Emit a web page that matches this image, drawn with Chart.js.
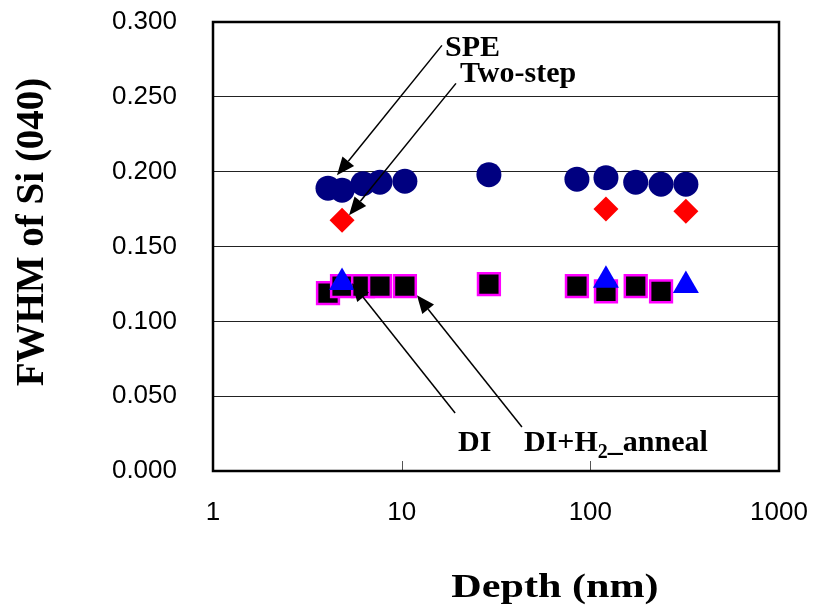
<!DOCTYPE html>
<html>
<head>
<meta charset="utf-8">
<script src="https://cdn.jsdelivr.net/npm/chart.js@4.4.1/dist/chart.umd.min.js"></script>
<style>
  html, body { margin: 0; padding: 0; background: #fff; }
  #wrap { width: 814px; height: 612px; }
</style>
</head>
<body>
<div id="wrap"><canvas id="Chart" width="814" height="612"></canvas></div>
<script>
// axis ticks
const depthTicks = [1, 10, 100, 1000];
const fwhmTicks = [0, 0.05, 0.1, 0.15, 0.2, 0.25, 0.3];

// FWHM of Si (040) vs depth, per process
const speDepth = [4.07, 4.83, 6.24, 7.67, 10.4, 29, 84.9, 121, 174, 237, 321];
const speFwhm = [0.189, 0.1876, 0.192, 0.193, 0.1936, 0.198, 0.195, 0.196, 0.193, 0.1916, 0.1916];

const twoStepDepth = [4.83, 121, 321];
const twoStepFwhm = [0.1676, 0.175, 0.1736];

const diDepth = [4.07, 4.83, 6.24, 7.67, 10.4, 29, 84.9, 121, 174, 237];
const diFwhm = [0.1188, 0.1235, 0.1235, 0.1235, 0.1235, 0.1248, 0.1235, 0.120, 0.1235, 0.120];

const diH2Depth = [4.83, 121, 321];
const diH2Fwhm = [0.126, 0.1275, 0.124];

// callout arrows and labels, in data units (depth, fwhm)
const arrowNotes = [
    { from: [16.35, 0.2844], to: [4.54, 0.1976] },
    { from: [19.4, 0.259], to: [5.26, 0.1709] },
    { from: [19.2, 0.0387], to: [5.45, 0.1255] },
    { from: [43.4, 0.0294], to: [12.05, 0.1175] },
];
const textNotes = [
    { parts: ['SPE'], at: [16.96, 0.277] },
    { parts: ['Two-step'], at: [20.4, 0.2597] },
    { parts: ['DI'], at: [19.9, 0.0134] },
    { parts: ['DI+H', '2', '_anneal'], at: [44.5, 0.0134] },
];

const toPoints = (xs, ys) => xs.map((x, i) => ({ x: x, y: ys[i] }));

const serif = '"Liberation Serif", "Times New Roman", serif';
const sans = '"Liberation Sans", Arial, sans-serif';

const frame = {
    id: 'frame',
    beforeDatasetsDraw(chart) {
        const { ctx, chartArea: a, scales } = chart;
        ctx.save();
        // inner tick marks on the depth axis
        ctx.strokeStyle = '#555';
        ctx.lineWidth = 1;
        depthTicks.slice(1, -1).forEach(v => {
            const px = Math.round(scales.x.getPixelForValue(v)) + 0.5;
            ctx.beginPath();
            ctx.moveTo(px, a.bottom);
            ctx.lineTo(px, a.bottom - 10);
            ctx.stroke();
        });
        // plot box
        ctx.strokeStyle = '#000';
        ctx.lineWidth = 2.5;
        ctx.strokeRect(a.left, a.top, a.right - a.left, a.bottom - a.top);
        ctx.restore();
    },
    afterDraw(chart) {
        const { ctx, scales } = chart;
        const pt = (p) => [scales.x.getPixelForValue(p[0]), scales.y.getPixelForValue(p[1])];
        ctx.save();

        // arrows
        ctx.strokeStyle = '#000';
        ctx.fillStyle = '#000';
        ctx.lineWidth = 1.5;
        arrowNotes.forEach(n => {
            const [x0, y0] = pt(n.from);
            const [x1, y1] = pt(n.to);
            const ang = Math.atan2(y1 - y0, x1 - x0);
            const len = 18, half = 7.5;
            const bx = x1 - Math.cos(ang) * len, by = y1 - Math.sin(ang) * len;
            ctx.beginPath();
            ctx.moveTo(x0, y0);
            ctx.lineTo(bx, by);
            ctx.stroke();
            ctx.beginPath();
            ctx.moveTo(x1, y1);
            ctx.lineTo(bx + Math.sin(ang) * half, by - Math.cos(ang) * half);
            ctx.lineTo(bx - Math.sin(ang) * half, by + Math.cos(ang) * half);
            ctx.closePath();
            ctx.fill();
        });

        // callout labels
        ctx.textBaseline = 'alphabetic';
        ctx.textAlign = 'left';
        textNotes.forEach(n => {
            let [x, y] = pt(n.at);
            n.parts.forEach((s, i) => {
                const sub = n.parts.length > 1 && i === 1;
                ctx.font = 'bold ' + (sub ? 20 : 30) + 'px ' + serif;
                ctx.fillText(s, x, sub ? y + 7 : y);
                x += ctx.measureText(s).width;
            });
        });

        // axis titles
        ctx.font = 'bold 39px ' + serif;
        ctx.textAlign = 'center';
        ctx.textBaseline = 'middle';
        ctx.save();
        ctx.translate(33, 232);
        ctx.rotate(-Math.PI / 2);
        ctx.fillText('FWHM of Si (040)', 0, 0);
        ctx.restore();

        ctx.font = 'bold 34px ' + serif;
        ctx.textBaseline = 'alphabetic';
        ctx.save();
        ctx.translate(555, 597);
        ctx.scale(1.24, 1);
        ctx.fillText('Depth (nm)', 0, 0);
        ctx.restore();

        ctx.restore();
    }
};

const dataType = {
    datasets: [{
        label: 'SPE',
        data: toPoints(speDepth, speFwhm),
        pointStyle: 'circle',
        pointRadius: 12.5,
        backgroundColor: '#000080',
        borderColor: '#000080',
        borderWidth: 0,
        order: 3,
    }, {
        label: 'Two-step',
        data: toPoints(twoStepDepth, twoStepFwhm),
        pointStyle: 'rectRot',
        pointRadius: 12.5,
        backgroundColor: '#ff0000',
        borderColor: '#ff0000',
        borderWidth: 0,
        order: 2,
    }, {
        label: 'DI',
        data: toPoints(diDepth, diFwhm),
        pointStyle: 'rect',
        pointRadius: 15.4,
        backgroundColor: '#000000',
        borderColor: '#ff00ff',
        borderWidth: 2.5,
        order: 1,
    }, {
        label: 'DI+H2_anneal',
        data: toPoints(diH2Depth, diH2Fwhm),
        pointStyle: 'triangle',
        pointRadius: 15,
        backgroundColor: '#0000ff',
        borderColor: '#0000ff',
        borderWidth: 0,
        order: 0,
    }],
};

const config = {
    type: 'scatter',
    data: dataType,
    plugins: [frame],
    options: {
        responsive: false,
        animation: false,
        layout: { padding: { top: 22, right: 35, left: 0, bottom: 0 } },
        plugins: {
            legend: { display: false },
            tooltip: { enabled: false },
        },
        elements: { point: { hoverRadius: 0 } },
        scales: {
            x: {
                type: 'logarithmic',
                min: 1,
                max: 1000,
                afterBuildTicks: (scale) => { scale.ticks = depthTicks.map(v => ({ value: v })); },
                afterFit: (scale) => {
                    scale.height = 141;
                    scale.paddingLeft = 0;
                    scale.paddingRight = 0;
                },
                ticks: {
                    callback: (v) => String(v),
                    color: '#000',
                    font: { family: sans, size: 26 },
                    padding: 26,
                    maxRotation: 0,
                    autoSkip: false,
                },
                grid: { display: false, drawTicks: false },
                border: { display: false },
            },
            y: {
                min: 0,
                max: 0.3,
                afterBuildTicks: (scale) => { scale.ticks = fwhmTicks.map(v => ({ value: v })); },
                afterFit: (scale) => {
                    scale.width = 213;
                    scale.paddingTop = 0;
                    scale.paddingBottom = 0;
                },
                ticks: {
                    callback: (v) => v.toFixed(3),
                    color: '#000',
                    font: { family: sans, size: 26 },
                    padding: 36,
                },
                grid: { color: '#222', lineWidth: 1, drawTicks: false },
                border: { display: false },
            },
        },
    },
};

const ctx = document.getElementById('Chart').getContext('2d');
const myChart = new Chart(ctx, config);
</script>
</body>
</html>
